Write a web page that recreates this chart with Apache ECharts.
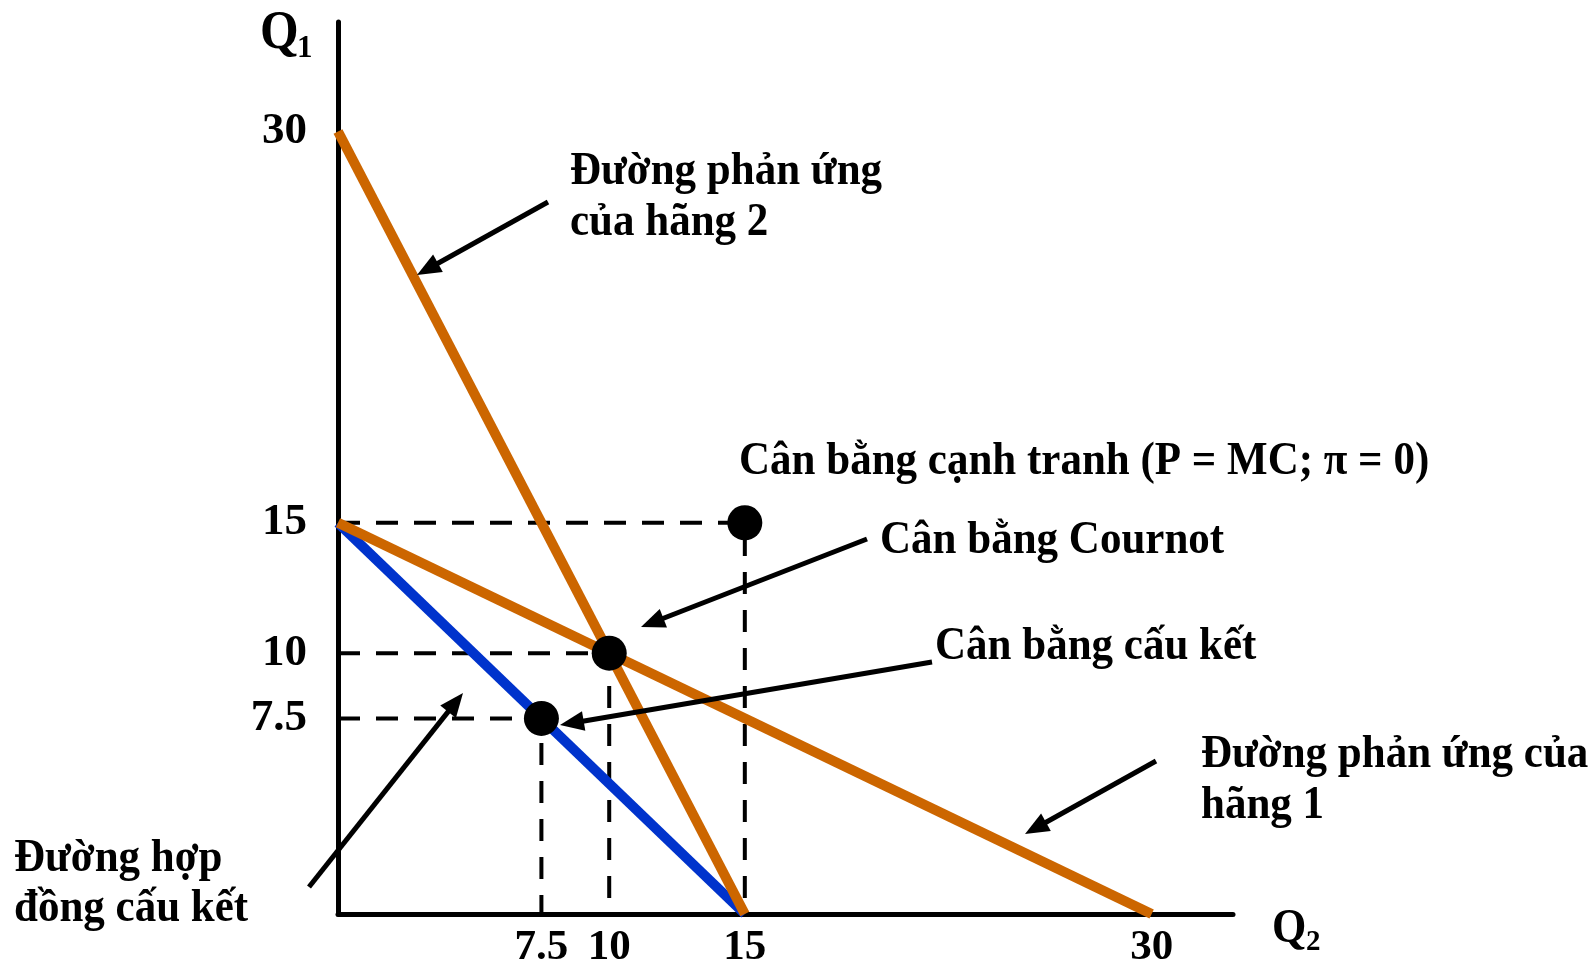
<!DOCTYPE html>
<html>
<head>
<meta charset="utf-8">
<script src="https://cdn.jsdelivr.net/npm/echarts@6/dist/echarts.min.js"></script>
<style>
html,body{margin:0;padding:0;background:#fff;}
#chart{width:1595px;height:960px;}
</style>
</head>
<body>
<div id="chart"></div>
<script>
// ---- Data (x = Q2, y = Q1) ----
const firm1Reaction = [[0, 15], [30, 0]];      // Đường phản ứng của hãng 1
const firm2Reaction = [[0, 30], [15, 0]];      // Đường phản ứng của hãng 2
const collusionCurve = [[0, 15], [15, 0]];     // Đường hợp đồng cấu kết
const competitivePt = [15, 15];                // Cân bằng cạnh tranh
const cournotPt = [10, 10];                    // Cân bằng Cournot
const collusionPt = [7.5, 7.5];                // Cân bằng cấu kết
const xTickLabels = [7.5, 10, 15, 30];
const yTickLabels = [7.5, 10, 15, 30];

// ---- Styles / layout ----
const ORANGE = '#CC6600';
const BLUE = '#0033CC';
const FONT = '"Liberation Serif", "Times New Roman", serif';
const annoFont = 'bold 47px ' + FONT;
const annoScaleX = 0.915;

function guide(p) { return [[0, p[1]], [p[0], p[1]], [p[0], 0]]; }

const dashStyle = { color: '#000', width: 4, type: [22, 16] };

const chart = echarts.init(document.getElementById('chart'), null, { renderer: 'canvas' });

// annotation texts (pixel layout)
const texts = [
  ['Đường phản ứng', 570, 172],
  ['của hãng 2', 570, 223],
  ['Cân bằng cạnh tranh (P = MC; π = 0)', 739, 462],
  ['Cân bằng Cournot', 880, 541],
  ['Cân bằng cấu kết', 935, 647],
  ['Đường phản ứng của', 1201, 755],
  ['hãng 1', 1201, 806],
  ['Đường hợp', 14, 859],
  ['đồng cấu kết', 14, 909]
];
// arrows: [tailX, tailY, tipX, tipY]
const arrows = [
  [548, 202, 417, 275],
  [867, 539, 641, 627],
  [932, 662, 560, 725],
  [1156, 761, 1025, 834],
  [309, 887, 463, 693]
];

const graphics = [];
texts.forEach(t => {
  graphics.push({
    type: 'text', z: 100, x: t[1], y: t[2], scaleX: annoScaleX,
    style: { text: t[0], x: 0, y: 0, font: annoFont, fill: '#000', verticalAlign: 'middle', align: 'left' }
  });
});
arrows.forEach(a => {
  const dx = a[2] - a[0], dy = a[3] - a[1];
  const len = Math.sqrt(dx * dx + dy * dy);
  const ux = dx / len, uy = dy / len;
  const nx = -uy, ny = ux;
  const L = 24, W = 10;
  const bx = a[2] - L * ux, by = a[3] - L * uy;
  graphics.push({
    type: 'line', z: 100,
    shape: { x1: a[0], y1: a[1], x2: bx + 4 * ux, y2: by + 4 * uy },
    style: { stroke: '#000', lineWidth: 5 }
  });
  graphics.push({
    type: 'polygon', z: 100,
    shape: { points: [[a[2], a[3]], [bx + W * nx, by + W * ny], [bx - W * nx, by - W * ny]] },
    style: { fill: '#000' }
  });
});
// axis titles Q1, Q2
graphics.push({ type: 'text', z: 100, x: 260, y: 34, scaleX: 0.92, style: { text: 'Q', x: 0, y: 0, font: 'bold 54px ' + FONT, fill: '#000', verticalAlign: 'middle' } });
graphics.push({ type: 'text', z: 100, style: { text: '1', x: 297, y: 49, font: 'bold 31px ' + FONT, fill: '#000', verticalAlign: 'middle' } });
graphics.push({ type: 'text', z: 100, x: 1272, y: 930, scaleX: 0.92, style: { text: 'Q', x: 0, y: 0, font: 'bold 48px ' + FONT, fill: '#000', verticalAlign: 'middle' } });
graphics.push({ type: 'text', z: 100, style: { text: '2', x: 1306, y: 943, font: 'bold 29px ' + FONT, fill: '#000', verticalAlign: 'middle' } });

const option = {
  backgroundColor: '#fff',
  animation: false,
  grid: { left: 338, right: 362, top: 22, bottom: 46, containLabel: false, outerBoundsMode: 'none' },
  xAxis: {
    type: 'value', min: 0, max: 33,
    axisLine: { show: true, onZero: false, lineStyle: { color: '#000', width: 5 } },
    axisTick: { show: false },
    splitLine: { show: false },
    axisLabel: {
      customValues: xTickLabels, margin: 12,
      fontFamily: FONT, fontWeight: 'bold', fontSize: 43, color: '#000'
    }
  },
  yAxis: {
    type: 'value', min: 0, max: 34.2,
    axisLine: { show: true, onZero: false, lineStyle: { color: '#000', width: 5 } },
    axisTick: { show: false },
    splitLine: { show: false },
    axisLabel: {
      customValues: yTickLabels, margin: 31,
      fontFamily: FONT, fontWeight: 'bold', fontSize: 45, color: '#000'
    }
  },
  series: [
    { name: 'guide15', type: 'line', data: guide(competitivePt), symbol: 'none', lineStyle: dashStyle, z: 1, silent: true },
    { name: 'guide10', type: 'line', data: guide(cournotPt), symbol: 'none', lineStyle: dashStyle, z: 1, silent: true },
    { name: 'guide75', type: 'line', data: guide(collusionPt), symbol: 'none', lineStyle: dashStyle, z: 1, silent: true },
    { name: 'Đường hợp đồng cấu kết', type: 'line', data: collusionCurve, symbol: 'none', lineStyle: { color: BLUE, width: 10, cap: 'butt' }, z: 2 },
    { name: 'Đường phản ứng của hãng 1', type: 'line', data: firm1Reaction, symbol: 'none', lineStyle: { color: ORANGE, width: 10, cap: 'butt' }, z: 3 },
    { name: 'Đường phản ứng của hãng 2', type: 'line', data: firm2Reaction, symbol: 'none', lineStyle: { color: ORANGE, width: 10, cap: 'butt' }, z: 3 },
    {
      name: 'Cân bằng', type: 'scatter', data: [competitivePt, cournotPt, collusionPt],
      symbol: 'circle', symbolSize: 35, itemStyle: { color: '#000', opacity: 1 }, z: 5
    }
  ],
  graphic: graphics
};
chart.setOption(option);
</script>
</body>
</html>
